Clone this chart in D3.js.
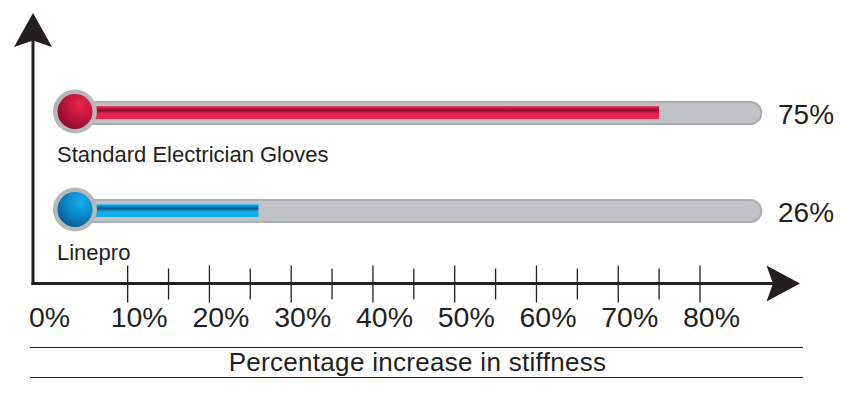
<!DOCTYPE html>
<html>
<head>
<meta charset="utf-8">
<script src="https://cdn.jsdelivr.net/npm/d3@7"></script>
<style>
  body { margin: 0; background: #fff; }
  text { font-family: "Liberation Sans", Arial, sans-serif; fill: #231f20; }
</style>
</head>
<body>
<div id="chart"></div>
<script>
let categories = ["Standard Electrician Gloves", "Linepro"];
let values = [75, 26];
let majorTicks = [0, 10, 20, 30, 40, 50, 60, 70, 80];
let minorTicks = [15, 25, 35, 45, 55, 65, 75];
let axisTitle = "Percentage increase in stiffness";

let W = 841, H = 393;
let svg = d3.select("#chart").append("svg").attr("width", W).attr("height", H);

let x = d3.scaleLinear().domain([0, 80]).range([45.9, 700]);
let y = d3.scalePoint().domain(categories).range([113, 211]);
let axisY = 283.5, axisX = 33;
let trackEnd = x(87.5);

let colors = [
  {dark: "#8e0d2e", mid: "#c8173f", light: "#e8244f", hi: "#f04d70"},
  {dark: "#0a5a98", mid: "#0a8fd0", light: "#14aeea", hi: "#5cc8f2"}
];

// gradients
let defs = svg.append("defs");
colors.forEach(function(c, i) {
  let lg = defs.append("linearGradient").attr("id", "bar" + i)
    .attr("x1", 0).attr("y1", 0).attr("x2", 0).attr("y2", 1);
  lg.append("stop").attr("offset", "0%").attr("stop-color", c.hi);
  lg.append("stop").attr("offset", "15%").attr("stop-color", c.mid);
  lg.append("stop").attr("offset", "35%").attr("stop-color", c.dark);
  lg.append("stop").attr("offset", "60%").attr("stop-color", c.light);
  lg.append("stop").attr("offset", "100%").attr("stop-color", c.light);

  let rg = defs.append("radialGradient").attr("id", "ball" + i)
    .attr("cx", "65%").attr("cy", "30%").attr("r", "75%");
  rg.append("stop").attr("offset", "0%").attr("stop-color", c.light);
  rg.append("stop").attr("offset", "45%").attr("stop-color", c.mid);
  rg.append("stop").attr("offset", "100%").attr("stop-color", c.dark);
});

// rows
let rows = svg.selectAll("g.row")
  .data(categories)
  .enter().append("g")
    .attr("class", "row")
    .attr("transform", function(d) { return "translate(0," + y(d) + ")"; });

rows.append("rect")
  .attr("x", 75).attr("y", -11)
  .attr("width", trackEnd - 75).attr("height", 22)
  .attr("rx", 11)
  .attr("fill", "#c1c2c5")
  .attr("stroke", "#adaeb1")
  .attr("stroke-width", 2);

rows.append("rect")
  .attr("x", 80).attr("y", -7)
  .attr("width", function(d, i) { return x(values[i]) - 80; })
  .attr("height", 13)
  .attr("fill", function(d, i) { return "url(#bar" + i + ")"; });

rows.append("circle")
  .attr("cx", 75).attr("cy", -1.5).attr("r", 22)
  .attr("fill", "#b6b7b9");

rows.append("circle")
  .attr("cx", 75).attr("cy", -1.5).attr("r", 17.5)
  .attr("fill", function(d, i) { return "url(#ball" + i + ")"; });

rows.append("text")
  .attr("x", 57).attr("y", 49)
  .attr("font-size", 22)
  .text(function(d) { return d; });

rows.append("text")
  .attr("x", 778).attr("y", 11)
  .attr("font-size", 28)
  .text(function(d, i) { return values[i] + "%"; });

// axes
let axisColor = "#231f20";
svg.append("line")
  .attr("x1", axisX).attr("y1", 40).attr("x2", axisX).attr("y2", axisY + 1.5)
  .attr("stroke", axisColor).attr("stroke-width", 3);
svg.append("line")
  .attr("x1", axisX - 1.5).attr("y1", axisY).attr("x2", 775).attr("y2", axisY)
  .attr("stroke", axisColor).attr("stroke-width", 3);

svg.append("path")
  .attr("d", "M" + axisX + ",13 L" + (axisX + 19) + ",47 L" + axisX + ",40.5 L" + (axisX - 19) + ",47 Z")
  .attr("fill", axisColor);
svg.append("path")
  .attr("d", "M800," + axisY + " L766.5," + (axisY - 18) + " L773," + axisY + " L766.5," + (axisY + 18) + " Z")
  .attr("fill", axisColor);

svg.selectAll("line.major")
  .data(majorTicks.filter(function(d) { return d > 0; }))
  .enter().append("line")
    .attr("class", "major")
    .attr("x1", function(d) { return x(d); }).attr("x2", function(d) { return x(d); })
    .attr("y1", axisY - 18).attr("y2", axisY + 19)
    .attr("stroke", axisColor).attr("stroke-width", 1.3);

svg.selectAll("line.minor")
  .data(minorTicks)
  .enter().append("line")
    .attr("class", "minor")
    .attr("x1", function(d) { return x(d); }).attr("x2", function(d) { return x(d); })
    .attr("y1", axisY - 15).attr("y2", axisY + 16)
    .attr("stroke", axisColor).attr("stroke-width", 1.3);

svg.selectAll("text.tick")
  .data(majorTicks)
  .enter().append("text")
    .attr("class", "tick")
    .attr("x", function(d) { return x(d) - 17; })
    .attr("y", 327)
    .attr("font-size", 28.5)
    .text(function(d) { return d + "%"; });

// title between rules
svg.append("line").attr("x1", 30).attr("x2", 803).attr("y1", 347.5).attr("y2", 347.5)
  .attr("stroke", axisColor).attr("stroke-width", 1.2);
svg.append("line").attr("x1", 30).attr("x2", 803).attr("y1", 377.5).attr("y2", 377.5)
  .attr("stroke", axisColor).attr("stroke-width", 1.2);
svg.append("text")
  .attr("x", 417.5).attr("y", 370.5)
  .attr("text-anchor", "middle")
  .attr("font-size", 26)
  .attr("letter-spacing", 0.3)
  .text(axisTitle);
</script>
</body>
</html>
